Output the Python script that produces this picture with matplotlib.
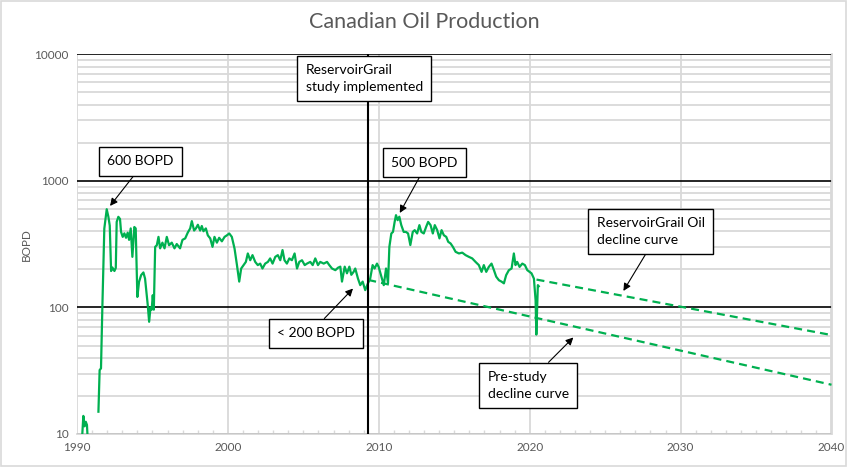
import numpy as np
import matplotlib
matplotlib.use("Agg")
import matplotlib.pyplot as plt
from matplotlib.ticker import FixedLocator, MultipleLocator, FuncFormatter, LogLocator, NullFormatter
from matplotlib.patches import Rectangle

plt.rcParams['font.family'] = ['Lato', 'DejaVu Sans']

# monthly-ish production (nan = no data shown)
years = [1990.33, 1990.42, 1990.50, 1990.58, 1990.66, 1990.71, 1991.00,
         1991.42, 1991.50, 1991.59, 1991.68, 1991.81, 1991.97, 1992.08, 1992.17, 1992.26, 1992.34,
         1992.48, 1992.57, 1992.63, 1992.74, 1992.85, 1992.92, 1993.03, 1993.14, 1993.25, 1993.36,
         1993.45, 1993.56, 1993.67, 1993.80, 1993.89, 1994.00, 1994.11, 1994.25, 1994.40, 1994.51,
         1994.62, 1994.69, 1994.78, 1994.87, 1994.95, 1995.02, 1995.09, 1995.18, 1995.29, 1995.40,
         1995.51, 1995.66, 1995.80, 1995.95, 1996.10, 1996.28, 1996.46, 1996.61, 1996.83, 1996.99,
         1997.17, 1997.34, 1997.50, 1997.61, 1997.76, 1997.88, 1998.01, 1998.16, 1998.27, 1998.38,
         1998.54, 1998.67, 1998.83, 1998.98, 1999.11, 1999.27, 1999.42, 1999.60, 1999.78, 1999.93,
         2000.09, 2000.26, 2000.44, 2000.60, 2000.75, 2000.88, 2001.04, 2001.19, 2001.32, 2001.48,
         2001.63, 2001.81, 2001.98, 2002.14, 2002.29, 2002.47, 2002.65, 2002.80, 2002.96, 2003.14,
         2003.31, 2003.47, 2003.62, 2003.75, 2003.91, 2004.07, 2004.24, 2004.42, 2004.58, 2004.73,
         2004.91, 2005.09, 2005.24, 2005.46, 2005.62, 2005.79, 2005.97, 2006.12, 2006.35, 2006.57,
         2006.72, 2006.90, 2007.12, 2007.30, 2007.45, 2007.56, 2007.74, 2007.89, 2008.05, 2008.18,
         2008.33, 2008.44, 2008.62, 2008.77, 2008.93, 2009.10, 2009.28, 2009.43, 2009.59, 2009.72,
         2009.88, 2009.99, 2010.17, 2010.33, 2010.48, 2010.61, 2010.70, 2010.83, 2010.94, 2011.05,
         2011.14, 2011.25, 2011.36, 2011.49, 2011.65, 2011.80, 2011.94, 2012.09, 2012.25, 2012.38,
         2012.54, 2012.69, 2012.82, 2012.98, 2013.14, 2013.27, 2013.43, 2013.58, 2013.71, 2013.87,
         2014.02, 2014.16, 2014.31, 2014.47, 2014.60, 2014.76, 2014.91, 2015.09, 2015.31, 2015.53,
         2015.75, 2015.97, 2016.19, 2016.41, 2016.63, 2016.81, 2016.96, 2017.12, 2017.29, 2017.47,
         2017.63, 2017.78, 2017.96, 2018.13, 2018.29, 2018.44, 2018.62, 2018.80, 2018.95, 2019.06,
         2019.17, 2019.33, 2019.51, 2019.68, 2019.84, 2019.99, 2020.12, 2020.28, 2020.39, 2020.44,
         2020.50, 2020.54, 2020.60]
bopd = [9.0, 13.9, 11.5, 12.5, 11.8, 9.0, np.nan,
        15, 32, 33, 100, 420, 597, 520, 443, 194, 207,
        194, 205, 474, 520, 500, 395, 361, 385, 355, 390,
        342, 421, 251, 432, 421, 121, 159, 180, 189, 169,
        125, 104, 77, 100, 96, 125, 96, 301, 310, 361,
        293, 325, 293, 361, 310, 325, 293, 317, 293, 342,
        351, 390, 421, 481, 405, 421, 450, 405, 440, 400,
        421, 371, 351, 301, 361, 325, 355, 333, 361, 371,
        384, 361, 292, 216, 160, 203, 216, 229, 267, 236,
        259, 229, 216, 222, 203, 222, 229, 244, 222, 251,
        259, 236, 284, 236, 222, 244, 236, 267, 203, 229,
        236, 216, 222, 229, 216, 244, 216, 229, 222, 229,
        216, 203, 197, 206, 210, 160, 210, 186, 210, 181,
        191, 203, 169, 150, 160, 137, 155, 169, 216, 203,
        222, 209, 175, 150, 203, 155, 301, 384, 395, 474,
        536, 489, 521, 447, 395, 395, 384, 311, 395, 408,
        384, 447, 395, 384, 434, 474, 447, 384, 447, 408,
        351, 408, 372, 361, 330, 320, 301, 275, 267, 271,
        259, 251, 244, 229, 216, 191, 216, 191, 209, 222,
        197, 175, 164, 160, 155, 180, 197, 203, 267, 216,
        229, 209, 222, 216, 197, 191, 186, 169, 114, 61,
        101, 150, 147]

# decline curves (exponential -> straight on log axis)
pre_years = [2009.3, 2040.0]
pre_bopd = [165, 24.5]
rg_years = [2020.45, 2040.0]
rg_bopd = [166, 60.5]

study_year = 2009.31

green = '#00B050'
gray_txt = '#595959'
grid_gray = '#D9D9D9'

fig = plt.figure(figsize=(8.48, 4.67), dpi=100)
ax = fig.add_axes([77/848, 1-434/467, (831.5-77)/848, (434-54.3)/467])

ax.set_yscale('log')
ax.set_ylim(10, 10000)
ax.set_xlim(1990, 2040)

# gridlines
ax.yaxis.set_major_locator(FixedLocator([10, 100, 1000, 10000]))
ax.yaxis.set_minor_locator(LogLocator(base=10, subs=np.arange(2, 10)))
ax.yaxis.set_major_formatter(FuncFormatter(lambda v, p: '%d' % v))
ax.yaxis.set_minor_formatter(NullFormatter())
ax.xaxis.set_major_locator(MultipleLocator(10))
ax.xaxis.set_minor_locator(MultipleLocator(1))
ax.grid(which='major', axis='y', color='black', lw=1.2)
ax.grid(which='minor', axis='y', color=grid_gray, lw=1.3)
ax.grid(which='major', axis='x', color=grid_gray, lw=1.3)
ax.set_axisbelow(True)

ax.tick_params(axis='y', which='both', length=0, labelsize=8.5, labelcolor=gray_txt, pad=6)
ax.tick_params(axis='x', which='major', length=0, labelsize=8.5, labelcolor=gray_txt, pad=6)
ax.tick_params(axis='x', which='minor', direction='in', length=3, color=grid_gray, width=1)

for side in ['top', 'left']:
    ax.spines[side].set_visible(False)
ax.spines['bottom'].set_color(grid_gray)
ax.spines['bottom'].set_linewidth(1.3)
ax.spines['right'].set_color(grid_gray)
ax.spines['right'].set_linewidth(1.3)

ax.set_ylabel('BOPD', color=gray_txt, fontsize=8.5, labelpad=2)
fig.text(0.5, 1-22/467, 'Canadian Oil Production', ha='center', va='center',
         fontsize=15.5, color=gray_txt)

ax.plot(years, bopd, color=green, lw=1.6, zorder=3)
ax.plot(pre_years, pre_bopd, color=green, lw=1.6, ls=(0, (3.6, 2.3)), zorder=3)
ax.plot(rg_years, rg_bopd, color=green, lw=1.6, ls=(0, (3.6, 2.3)), zorder=3)

ax.axvline(study_year, color='black', lw=1.5, zorder=4)

box = dict(boxstyle='square,pad=0.6', fc='white', ec='black', lw=1)
arrow = dict(arrowstyle='-|>', color='black', lw=0.8, mutation_scale=11, shrinkA=0, shrinkB=0)

def callout(txt, center, tip, rel):
    ap = dict(arrow)
    ap['relpos'] = rel
    ax.annotate(txt, xy=tip, xytext=center, ha='center', va='center', multialignment='left',
                fontsize=10, linespacing=1.45, bbox=box, arrowprops=ap, zorder=6)

callout('600 BOPD', (1994.2, 1429), (1992.19, 634), (0.5, 0))
callout('500 BOPD', (2013.0, 1390), (2011.39, 558), (0.5, 0))
callout('< 200 BOPD', (2005.83, 62.4), (2008.29, 141), (0.5, 1))
callout('Pre-study\ndecline curve', (2019.91, 24.2), (2022.89, 57.9), (0.64, 1))
callout('ReservoirGrail Oil\ndecline curve', (2028.02, 398), (2026.21, 135), (0.5, 0))
ax.text(2009.04, 6427, 'ReservoirGrail\nstudy implemented', ha='center', va='center',
        multialignment='left', fontsize=10, linespacing=1.45, bbox=box, zorder=6)

fig.patches.append(Rectangle((0.001, 0.002), 0.997, 0.996, transform=fig.transFigure,
                             fill=False, ec=grid_gray, lw=1.2))

fig.savefig('out.png', dpi=100)
